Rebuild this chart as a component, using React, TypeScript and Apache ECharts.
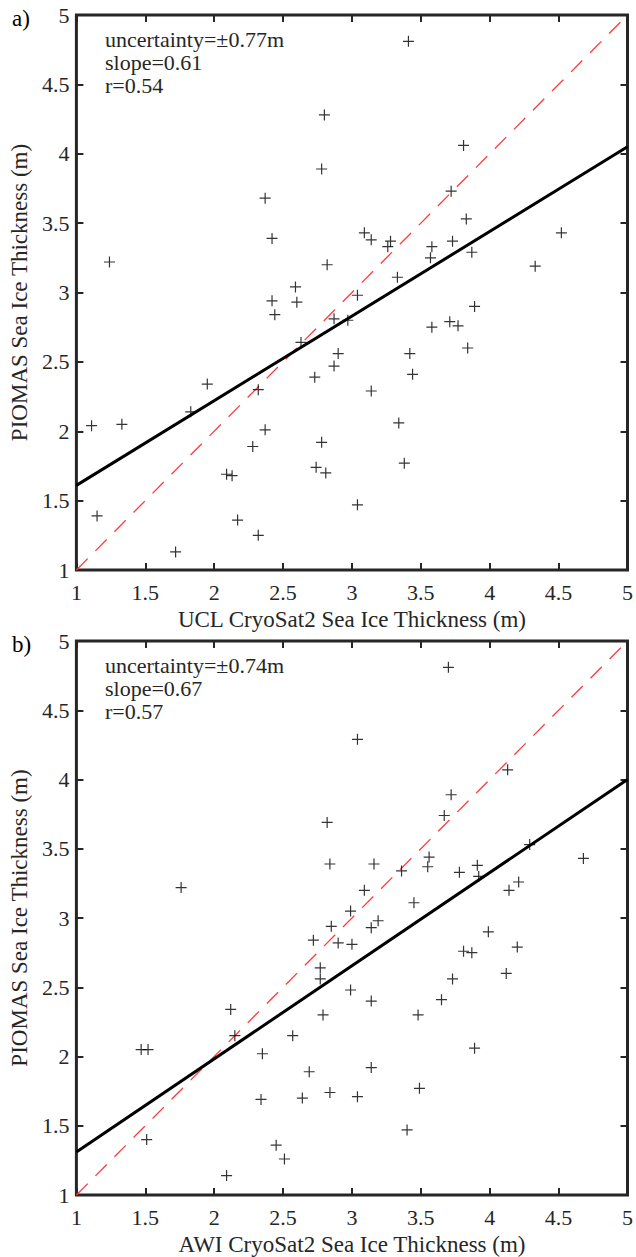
import React, { useEffect, useRef } from "react";
import * as echarts from "echarts";

const ucl = [1.24, 2.37, 2.42, 2.59, 2.78, 3.41, 2.80, 3.81, 3.72, 3.83, 3.09, 3.14, 3.28, 3.26, 3.58, 3.73, 3.57, 3.87, 4.52, 2.82, 4.33, 3.33, 3.04, 2.42, 2.60, 2.44, 2.63, 1.95, 1.83, 2.32, 1.11, 1.33, 2.37, 2.28, 2.09, 2.13, 2.73, 2.74, 1.15, 2.17, 2.32, 1.72, 2.87, 2.97, 3.89, 3.58, 3.71, 3.77, 3.84, 2.90, 2.87, 3.42, 3.44, 3.14, 3.34, 2.78, 2.81, 3.38, 3.04];
const piomasA = [3.22, 3.68, 3.39, 3.04, 3.89, 4.81, 4.28, 4.06, 3.73, 3.53, 3.43, 3.38, 3.37, 3.33, 3.33, 3.37, 3.25, 3.29, 3.43, 3.20, 3.19, 3.11, 2.98, 2.94, 2.93, 2.84, 2.64, 2.34, 2.14, 2.30, 2.04, 2.05, 2.01, 1.89, 1.69, 1.68, 2.39, 1.74, 1.39, 1.36, 1.25, 1.13, 2.81, 2.80, 2.90, 2.75, 2.79, 2.76, 2.60, 2.56, 2.47, 2.56, 2.41, 2.29, 2.06, 1.92, 1.70, 1.77, 1.47];

const awi = [1.76, 3.70, 3.04, 4.13, 3.72, 3.67, 2.82, 4.29, 3.56, 3.55, 2.84, 3.16, 4.68, 3.36, 3.78, 3.91, 3.92, 4.21, 4.14, 3.09, 3.45, 2.99, 3.19, 2.85, 3.14, 2.72, 2.90, 3.00, 3.99, 4.20, 3.81, 3.87, 2.77, 2.77, 4.12, 3.73, 2.99, 3.65, 3.14, 2.79, 3.48, 3.89, 2.69, 3.14, 2.84, 3.04, 3.49, 3.40, 2.12, 2.15, 1.47, 1.52, 2.57, 2.35, 2.34, 2.64, 1.51, 2.45, 2.51, 2.09];
const piomasB = [3.22, 4.81, 4.29, 4.07, 3.89, 3.74, 3.69, 3.53, 3.44, 3.37, 3.39, 3.39, 3.43, 3.34, 3.33, 3.38, 3.30, 3.26, 3.20, 3.20, 3.11, 3.05, 2.98, 2.94, 2.93, 2.84, 2.82, 2.81, 2.90, 2.79, 2.76, 2.75, 2.64, 2.56, 2.60, 2.56, 2.48, 2.41, 2.40, 2.30, 2.30, 2.06, 1.89, 1.92, 1.74, 1.71, 1.77, 1.47, 2.34, 2.15, 2.05, 2.05, 2.15, 2.02, 1.69, 1.70, 1.40, 1.36, 1.26, 1.14];

const fitX = [1, 5];
const fitA = [1.61, 4.05];
const fitB = [1.31, 4.0];
const oneToOne = [1, 5];

const statsA = ["uncertainty=\u00b10.77m", "slope=0.61", "r=0.54"];
const statsB = ["uncertainty=\u00b10.74m", "slope=0.67", "r=0.57"];
const xNames = ["UCL CryoSat2 Sea Ice Thickness (m)", "AWI CryoSat2 Sea Ice Thickness (m)"];
const yName = "PIOMAS Sea Ice Thickness (m)";
const panelLabels = ["a)", "b)"];

const FONT = "'Liberation Serif', 'Times New Roman', serif";
const DARK = "#262626";
const FS_TICK = 22;
const FS = 23;
const FS_NOTE = 22;

export default function App() {
  const ref = useRef<HTMLDivElement>(null);
  useEffect(() => {
    document.body.style.margin = "0";
    const chart = echarts.init(ref.current!, null, { renderer: "svg" });
    const grids = [
      { left: 76, top: 15, width: 555, height: 555 },
      { left: 76, top: 641, width: 555, height: 555 },
    ];
    const xAxis: any[] = [];
    const yAxis: any[] = [];
    grids.forEach((g, i) => {
      const common = {
        gridIndex: i,
        type: "value",
        min: 1,
        max: 5,
        interval: 0.5,
        splitLine: { show: false },
        axisLine: { show: false },
        axisTick: { show: true, inside: true, length: 7, lineStyle: { color: DARK, width: 2 } },
      };
      xAxis.push({
        ...common,
        position: "bottom",
        name: xNames[i],
        nameLocation: "middle",
        nameGap: 38,
        nameTextStyle: { fontFamily: FONT, fontSize: FS, color: DARK },
        axisLabel: { fontFamily: FONT, fontSize: FS_TICK, color: DARK, margin: 11 },
      });
      xAxis.push({ ...common, position: "top", axisLabel: { show: false } });
      yAxis.push({
        ...common,
        position: "left",
        name: yName,
        nameLocation: "middle",
        nameGap: 42,
        nameTextStyle: { fontFamily: FONT, fontSize: FS, color: DARK },
        axisLabel: { fontFamily: FONT, fontSize: FS_TICK, color: DARK, margin: 7 },
      });
      yAxis.push({ ...common, position: "right", axisLabel: { show: false } });
    });

    const plus = "path://M0,-5L0,5M-5,0L5,0";
    const mk = (xs: number[], ys: number[]) => xs.map((x, i) => [x, ys[i]]);
    const series: any[] = [];
    const sets = [
      { x: ucl, y: piomasA, fit: fitA },
      { x: awi, y: piomasB, fit: fitB },
    ];
    sets.forEach((s, i) => {
      const xi = i * 2;
      const yi = i * 2;
      series.push({
        type: "line",
        xAxisIndex: xi,
        yAxisIndex: yi,
        data: mk(fitX, oneToOne),
        showSymbol: false,
        lineStyle: { color: "#ff3b3b", width: 1.3, type: [16, 11] },
        emphasis: { disabled: true },
        z: 2,
      });
      series.push({
        type: "line",
        xAxisIndex: xi,
        yAxisIndex: yi,
        data: mk(fitX, s.fit),
        showSymbol: false,
        lineStyle: { color: "#000", width: 3 },
        emphasis: { disabled: true },
        z: 3,
      });
      series.push({
        type: "scatter",
        xAxisIndex: xi,
        yAxisIndex: yi,
        data: mk(s.x, s.y),
        symbol: plus,
        symbolSize: 11,
        itemStyle: { color: "rgba(0,0,0,0)", borderColor: "#000", borderWidth: 1.2 },
        emphasis: { disabled: true },
        z: 4,
      });
    });

    const graphic: any[] = [];
    [statsA, statsB].forEach((lines, i) => {
      graphic.push({
        type: "text",
        left: 105,
        top: grids[i].top + 13,
        style: { text: lines.join("\n"), font: `${FS_NOTE}px ${FONT}`, lineHeight: 23, fill: DARK },
      });
      graphic.push({
        type: "text",
        left: 12,
        top: grids[i].top - 8,
        style: { text: panelLabels[i], font: `${FS}px ${FONT}`, fill: "#000" },
      });
    });

    chart.setOption({
      animation: false,
      backgroundColor: "#fff",
      grid: grids.map((g) => ({ ...g, show: true, borderColor: DARK, borderWidth: 3, backgroundColor: "transparent", containLabel: false })),
      xAxis,
      yAxis,
      series,
      graphic,
    });
    return () => chart.dispose();
  }, []);
  return <div ref={ref} style={{ width: 636, height: 1257 }} />;
}
